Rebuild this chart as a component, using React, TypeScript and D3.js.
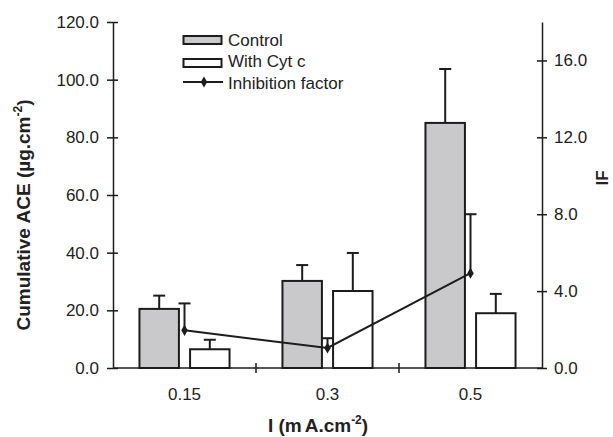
import React, { useRef, useEffect } from "react";
import * as d3 from "d3";

// values
const categories = ["0.15", "0.3", "0.5"];
const controlMean = [20.5, 30.2, 85.0];
const controlErr = [4.6, 5.5, 18.7];
const cytMean = [6.5, 26.7, 19.0];
const cytErr = [3.3, 13.2, 6.7];
const ifMean = [1.96, 1.04, 4.93];
const ifErr = [1.4, 0.51, 3.07];
const leftTicks = [0, 20, 40, 60, 80, 100, 120];
const rightTicks = [0, 4, 8, 12, 16];
const legendItems = ["Control", "With Cyt c", "Inhibition factor"];

const W = 613;
const H = 437;
const FONT = "'Liberation Sans', Arial, Helvetica, sans-serif";
const INK = "#1c1c1c";

function App() {
  const svgRef = useRef<SVGSVGElement>(null);

  useEffect(() => {
    const svg = d3.select(svgRef.current);
    svg.selectAll("*").remove();

    const x0 = 113, x1 = 542, yTop = 22, yBot = 368;

    const x = d3.scaleBand().domain(categories).range([x0, x1]).padding(0);
    const bw = x.bandwidth();
    const sub = d3.scaleBand()
      .domain(["control", "cyt"])
      .range([bw * 0.185, bw * 0.815])
      .paddingInner(0.22);
    const yL = d3.scaleLinear().domain([0, 120]).range([yBot, yTop]);
    const yR = d3.scaleLinear().domain([0, 18]).range([yBot, yTop]);

    // axes
    const axisL = d3.axisLeft(yL).tickValues(leftTicks).tickFormat(d3.format(".1f")).tickSizeInner(6).tickSizeOuter(0).tickPadding(8);
    const gL = svg.append("g").attr("transform", `translate(${x0},0)`).call(axisL);
    gL.selectAll(".tick line").attr("x2", -6).attr("x1", 5);

    const axisR = d3.axisRight(yR).tickValues(rightTicks).tickFormat(d3.format(".1f")).tickSizeInner(5).tickSizeOuter(0).tickPadding(7);
    const gR = svg.append("g").attr("transform", `translate(${x1},0)`).call(axisR);
    gR.selectAll(".tick line").attr("x1", -5).attr("x2", 5);

    const axisB = d3.axisBottom(x).tickSize(0).tickPadding(20);
    const gB = svg.append("g").attr("transform", `translate(0,${yBot})`).call(axisB);
    gB.select(".domain").attr("d", `M${x0},0H${x1}`);
    // boundary ticks between groups
    gB.selectAll(".sep")
      .data(categories.slice(1))
      .join("line")
      .attr("x1", (d) => x(d)!)
      .attr("x2", (d) => x(d)!)
      .attr("y1", -5)
      .attr("y2", 5);

    [gL, gR, gB].forEach((g) => {
      g.selectAll(".domain").attr("stroke", INK).attr("stroke-width", 1.5);
      g.selectAll("line").attr("stroke", INK).attr("stroke-width", 1.5);
      g.selectAll("text").attr("font-family", FONT).attr("font-size", 17).attr("fill", "#222");
    });
    gB.selectAll(".tick text").attr("dy", "0.71em");

    // bars
    const series = [
      { key: "control", mean: controlMean, err: controlErr, fill: "#c9c9cb" },
      { key: "cyt", mean: cytMean, err: cytErr, fill: "#ffffff" },
    ];
    series.forEach((s) => {
      const g = svg.append("g");
      categories.forEach((c, i) => {
        const bx = x(c)! + sub(s.key)!;
        const cx = bx + sub.bandwidth() / 2;
        g.append("line")
          .attr("x1", cx).attr("x2", cx)
          .attr("y1", yL(s.mean[i])).attr("y2", yL(s.mean[i] + s.err[i]))
          .attr("stroke", INK).attr("stroke-width", 2);
        g.append("line")
          .attr("x1", cx - 6).attr("x2", cx + 6)
          .attr("y1", yL(s.mean[i] + s.err[i])).attr("y2", yL(s.mean[i] + s.err[i]))
          .attr("stroke", INK).attr("stroke-width", 2);
        g.append("rect")
          .attr("x", bx)
          .attr("y", yL(s.mean[i]))
          .attr("width", sub.bandwidth())
          .attr("height", yBot - yL(s.mean[i]))
          .attr("fill", s.fill)
          .attr("stroke", INK)
          .attr("stroke-width", 2);
      });
    });

    // inhibition factor line
    const px = (c: string) => x(c)! + bw / 2;
    const gI = svg.append("g");
    categories.forEach((c, i) => {
      const cx = px(c);
      gI.append("line")
        .attr("x1", cx).attr("x2", cx)
        .attr("y1", yR(ifMean[i])).attr("y2", yR(ifMean[i] + ifErr[i]))
        .attr("stroke", INK).attr("stroke-width", 2);
      gI.append("line")
        .attr("x1", cx - 6).attr("x2", cx + 6)
        .attr("y1", yR(ifMean[i] + ifErr[i])).attr("y2", yR(ifMean[i] + ifErr[i]))
        .attr("stroke", INK).attr("stroke-width", 2);
    });
    const line = d3.line<number>().x((_, i) => px(categories[i])).y((d) => yR(d));
    gI.append("path").attr("d", line(ifMean)).attr("fill", "none").attr("stroke", INK).attr("stroke-width", 2);
    const diamond = d3.symbol(d3.symbolDiamond, 36);
    gI.selectAll(".pt")
      .data(ifMean)
      .join("path")
      .attr("transform", (d, i) => `translate(${px(categories[i])},${yR(d)})`)
      .attr("d", diamond())
      .attr("fill", INK);

    // legend
    const lg = svg.append("g").attr("font-family", FONT).attr("font-size", 17).attr("fill", "#222");
    const rowY = [40, 63, 82];
    lg.append("rect").attr("x", 183.5).attr("y", rowY[0] - 4).attr("width", 38).attr("height", 8)
      .attr("fill", "#c9c9cb").attr("stroke", INK).attr("stroke-width", 2);
    lg.append("rect").attr("x", 183.5).attr("y", rowY[1] - 4).attr("width", 38).attr("height", 8)
      .attr("fill", "#fff").attr("stroke", INK).attr("stroke-width", 2);
    lg.append("line").attr("x1", 183).attr("x2", 223).attr("y1", rowY[2]).attr("y2", rowY[2])
      .attr("stroke", INK).attr("stroke-width", 2);
    lg.append("path").attr("transform", `translate(204,${rowY[2]})`).attr("d", diamond()).attr("fill", INK);
    lg.selectAll("text")
      .data(legendItems)
      .join("text")
      .attr("x", 228)
      .attr("y", (d, i) => [45.5, 67, 89][i])
      .text((d) => d);

    // axis titles
    const tl = svg.append("text")
      .attr("transform", "translate(30,215) rotate(-90)")
      .attr("text-anchor", "middle")
      .attr("font-family", FONT).attr("font-weight", "bold").attr("font-size", 19).attr("fill", "#222");
    tl.append("tspan").text("Cumulative ACE (µg.cm");
    tl.append("tspan").attr("font-size", 12).attr("dy", -8).text("-2");
    tl.append("tspan").attr("dy", 8).text(")");

    const tb = svg.append("text")
      .attr("x", 318).attr("y", 432)
      .attr("text-anchor", "middle")
      .attr("font-family", FONT).attr("font-weight", "bold").attr("font-size", 19).attr("fill", "#222");
    tb.append("tspan").text("I (m");
    tb.append("tspan").attr("dx", 3).text("A.cm");
    tb.append("tspan").attr("font-size", 12).attr("dy", -8).text("-2");
    tb.append("tspan").attr("dy", 8).text(")");

    svg.append("text")
      .attr("transform", "translate(608,178) rotate(-90)")
      .attr("text-anchor", "middle")
      .attr("font-family", FONT).attr("font-weight", "bold").attr("font-size", 17).attr("fill", "#222")
      .text("IF");
  }, []);

  return (
    <svg ref={svgRef} width={W} height={H} style={{ position: "absolute", left: 0, top: 0, background: "#fff" }} />
  );
}

export default App;
